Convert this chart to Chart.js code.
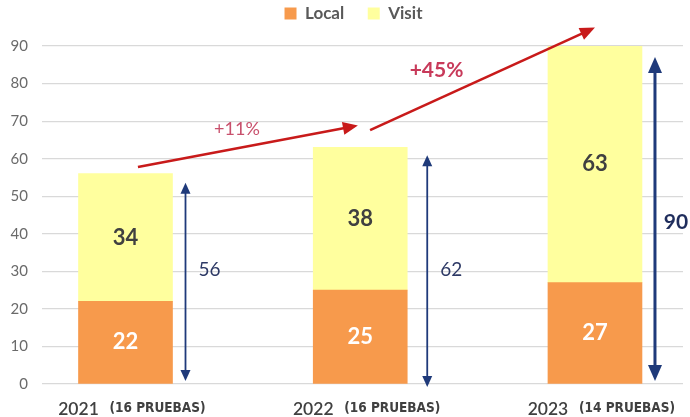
<!DOCTYPE html>
<html>
<head>
<meta charset="utf-8">
<script src="https://cdn.jsdelivr.net/npm/chart.js@4.4.1/dist/chart.umd.min.js"></script>
<style>
html,body{margin:0;padding:0;background:#fff;}
#wrap{width:690px;height:417px;position:relative;}
</style>
</head>
<body>
<div id="wrap"><canvas id="c"></canvas></div>
<script>
// ---- data ----
const categories = ['2021', '2022', '2023'];
const pruebas = ['(16 PRUEBAS)', '(16 PRUEBAS)', '(14 PRUEBAS)'];
const localValues = [22, 25, 27];
const visitValues = [34, 38, 63];
const totals = [56, 62, 90];
const growthLabels = ['+11%', '+45%'];
const seriesNames = ['Local', 'Visit'];

const FONT = 'Lato, "Open Sans", "Liberation Sans", sans-serif';

function arrowHead(ctx, x, y, ang, len, w) {
  ctx.beginPath();
  ctx.moveTo(x, y);
  ctx.lineTo(x - len * Math.cos(ang) + w * Math.sin(ang), y - len * Math.sin(ang) - w * Math.cos(ang));
  ctx.lineTo(x - len * Math.cos(ang) - w * Math.sin(ang), y - len * Math.sin(ang) + w * Math.cos(ang));
  ctx.closePath();
  ctx.fill();
}

const legendSpace = {
  id: 'legendSpace',
  beforeInit(chart) {
    const lg = chart.legend;
    const origFit = lg.fit;
    lg.fit = function () {
      origFit.call(this);
      this.height += 12;
    };
    const origDraw = lg.draw;
    lg.draw = function (area) {
      const ctx = this.ctx;
      ctx.save();
      ctx.translate(12, -2);
      origDraw.call(this, area);
      ctx.restore();
    };
  }
};

const annot = {
  id: 'annot',
  afterDraw(chart) {
    const ctx = chart.ctx;
    const xs = chart.scales.x, ys = chart.scales.y;
    const m1 = chart.getDatasetMeta(0).data;
    const m2 = chart.getDatasetMeta(1).data;
    ctx.save();
    // value labels in bars
    for (let i = 0; i < categories.length; i++) {
      const a = m1[i], b = m2[i];
      ctx.font = 'bold 22px ' + FONT;
      ctx.textAlign = 'center';
      ctx.textBaseline = 'middle';
      ctx.fillStyle = '#ffffff';
      ctx.fillText(String(localValues[i]), a.x, (a.y + a.base) / 2);
      ctx.fillStyle = '#404040';
      ctx.fillText(String(visitValues[i]), b.x, (b.y + b.base) / 2);
    }
    // total double arrows
    const offs = [13, 20, 13];
    const lw = [1.8, 1.8, 3];
    const topGap = [9, 4, 11];
    for (let i = 0; i < categories.length; i++) {
      const b = m2[i];
      const x = b.x + b.width / 2 + offs[i];
      const yTop = ys.getPixelForValue(totals[i]) + topGap[i];
      const yBot = ys.getPixelForValue(0) - (i === 1 ? -3 : 3);
      ctx.strokeStyle = '#1f3a7a';
      ctx.fillStyle = '#1f3a7a';
      ctx.lineWidth = lw[i];
      const hl = i === 2 ? 16 : 11, hw = i === 2 ? 7 : 5;
      ctx.beginPath();
      ctx.moveTo(x, yTop + hl - 2);
      ctx.lineTo(x, yBot - hl + 2);
      ctx.stroke();
      arrowHead(ctx, x, yTop, -Math.PI / 2, hl, hw);
      arrowHead(ctx, x, yBot, Math.PI / 2, hl, hw);
      // total label
      if (i === 2) {
        ctx.font = 'bold 21px ' + FONT;
        ctx.fillStyle = '#1f2d5c';
      } else {
        ctx.font = '19px ' + FONT;
        ctx.fillStyle = '#2e3a66';
      }
      ctx.textAlign = 'center';
      ctx.textBaseline = 'middle';
      const ly = ys.getPixelForValue(i === 2 ? 43 : 30.3);
      ctx.fillText(String(totals[i]), x + (i === 2 ? 21 : 24), ly);
    }
    // growth arrows
    const segs = [
      { x1: 0.053, y1: 57.8, x2: 0.99, y2: 68.8 },
      { x1: 1.042, y1: 67.6, x2: 2.0, y2: 94.9 }
    ];
    ctx.strokeStyle = '#c81a1a';
    ctx.fillStyle = '#c81a1a';
    ctx.lineWidth = 2.6;
    segs.forEach(s => {
      const X1 = xs.getPixelForValue(s.x1), Y1 = ys.getPixelForValue(s.y1);
      const X2 = xs.getPixelForValue(s.x2), Y2 = ys.getPixelForValue(s.y2);
      const ang = Math.atan2(Y2 - Y1, X2 - X1);
      ctx.beginPath();
      ctx.moveTo(X1, Y1);
      ctx.lineTo(X2 - 12 * Math.cos(ang), Y2 - 12 * Math.sin(ang));
      ctx.stroke();
      arrowHead(ctx, X2, Y2, ang, 15, 6.5);
    });
    ctx.textAlign = 'center';
    ctx.textBaseline = 'middle';
    ctx.font = '18px ' + FONT;
    ctx.fillStyle = '#c8506c';
    ctx.fillText(growthLabels[0], xs.getPixelForValue(0.475), ys.getPixelForValue(67.9));
    ctx.font = 'bold 21px ' + FONT;
    ctx.fillStyle = '#c83a5a';
    ctx.fillText(growthLabels[1], xs.getPixelForValue(1.325), ys.getPixelForValue(83.6));
    // x labels
    const yLab = ys.getPixelForValue(0) + 25;
    for (let i = 0; i < categories.length; i++) {
      const cx = xs.getPixelForValue(i);
      ctx.textBaseline = 'middle';
      ctx.textAlign = 'center';
      ctx.font = '600 17.5px ' + FONT;
      ctx.fillStyle = '#404040';
      ctx.fillText(categories[i], cx - 47, yLab);
      ctx.font = 'bold 13.5px "DejaVu Sans Condensed", "Liberation Sans Narrow", ' + FONT;
      ctx.fillStyle = '#404040';
      ctx.fillText(pruebas[i], cx + 32, yLab - 1);
    }
    ctx.restore();
  }
};

new Chart(document.getElementById('c'), {
  type: 'bar',
  data: {
    datasets: [
      {
        label: seriesNames[0],
        data: categories.map((c, i) => ({ x: i, y: localValues[i] })),
        backgroundColor: '#f79a4c',
        barThickness: 94
      },
      {
        label: seriesNames[1],
        data: categories.map((c, i) => ({ x: i, y: visitValues[i] })),
        backgroundColor: '#ffff9e',
        barThickness: 94
      }
    ]
  },
  options: {
    responsive: true,
    maintainAspectRatio: false,
    animation: false,
    layout: { padding: { top: 0, right: 7, bottom: 0, left: 0 } },
    plugins: {
      tooltip: { enabled: false },
      legend: {
        position: 'top',
        labels: {
          boxWidth: 12,
          boxHeight: 12,
          padding: 7,
          color: '#595959',
          font: { family: FONT, size: 17, weight: 'bold' },
          generateLabels(chart) {
            const items = Chart.defaults.plugins.legend.labels.generateLabels(chart);
            items.forEach((it, idx) => {
              if (idx < items.length - 1) it.text = it.text + '    ';
            });
            return items;
          }
        }
      }
    },
    scales: {
      x: {
        type: 'linear',
        stacked: true,
        offset: false,
        min: -0.3557,
        max: 2.375,
        ticks: { display: false },
        grid: { display: false },
        border: { display: false },
        afterFit(s) { s.height = 33; }
      },
      y: {
        stacked: true,
        min: 0,
        max: 90,
        ticks: {
          stepSize: 10,
          padding: 14,
          color: '#6a6a6a',
          font: { family: FONT, size: 15 }
        },
        grid: { color: '#d9d9d9', lineWidth: 1.2, drawTicks: false },
        border: { display: false },
        afterFit(s) { s.width = 42; }
      }
    }
  },
  plugins: [legendSpace, annot]
});
</script>
</body>
</html>
